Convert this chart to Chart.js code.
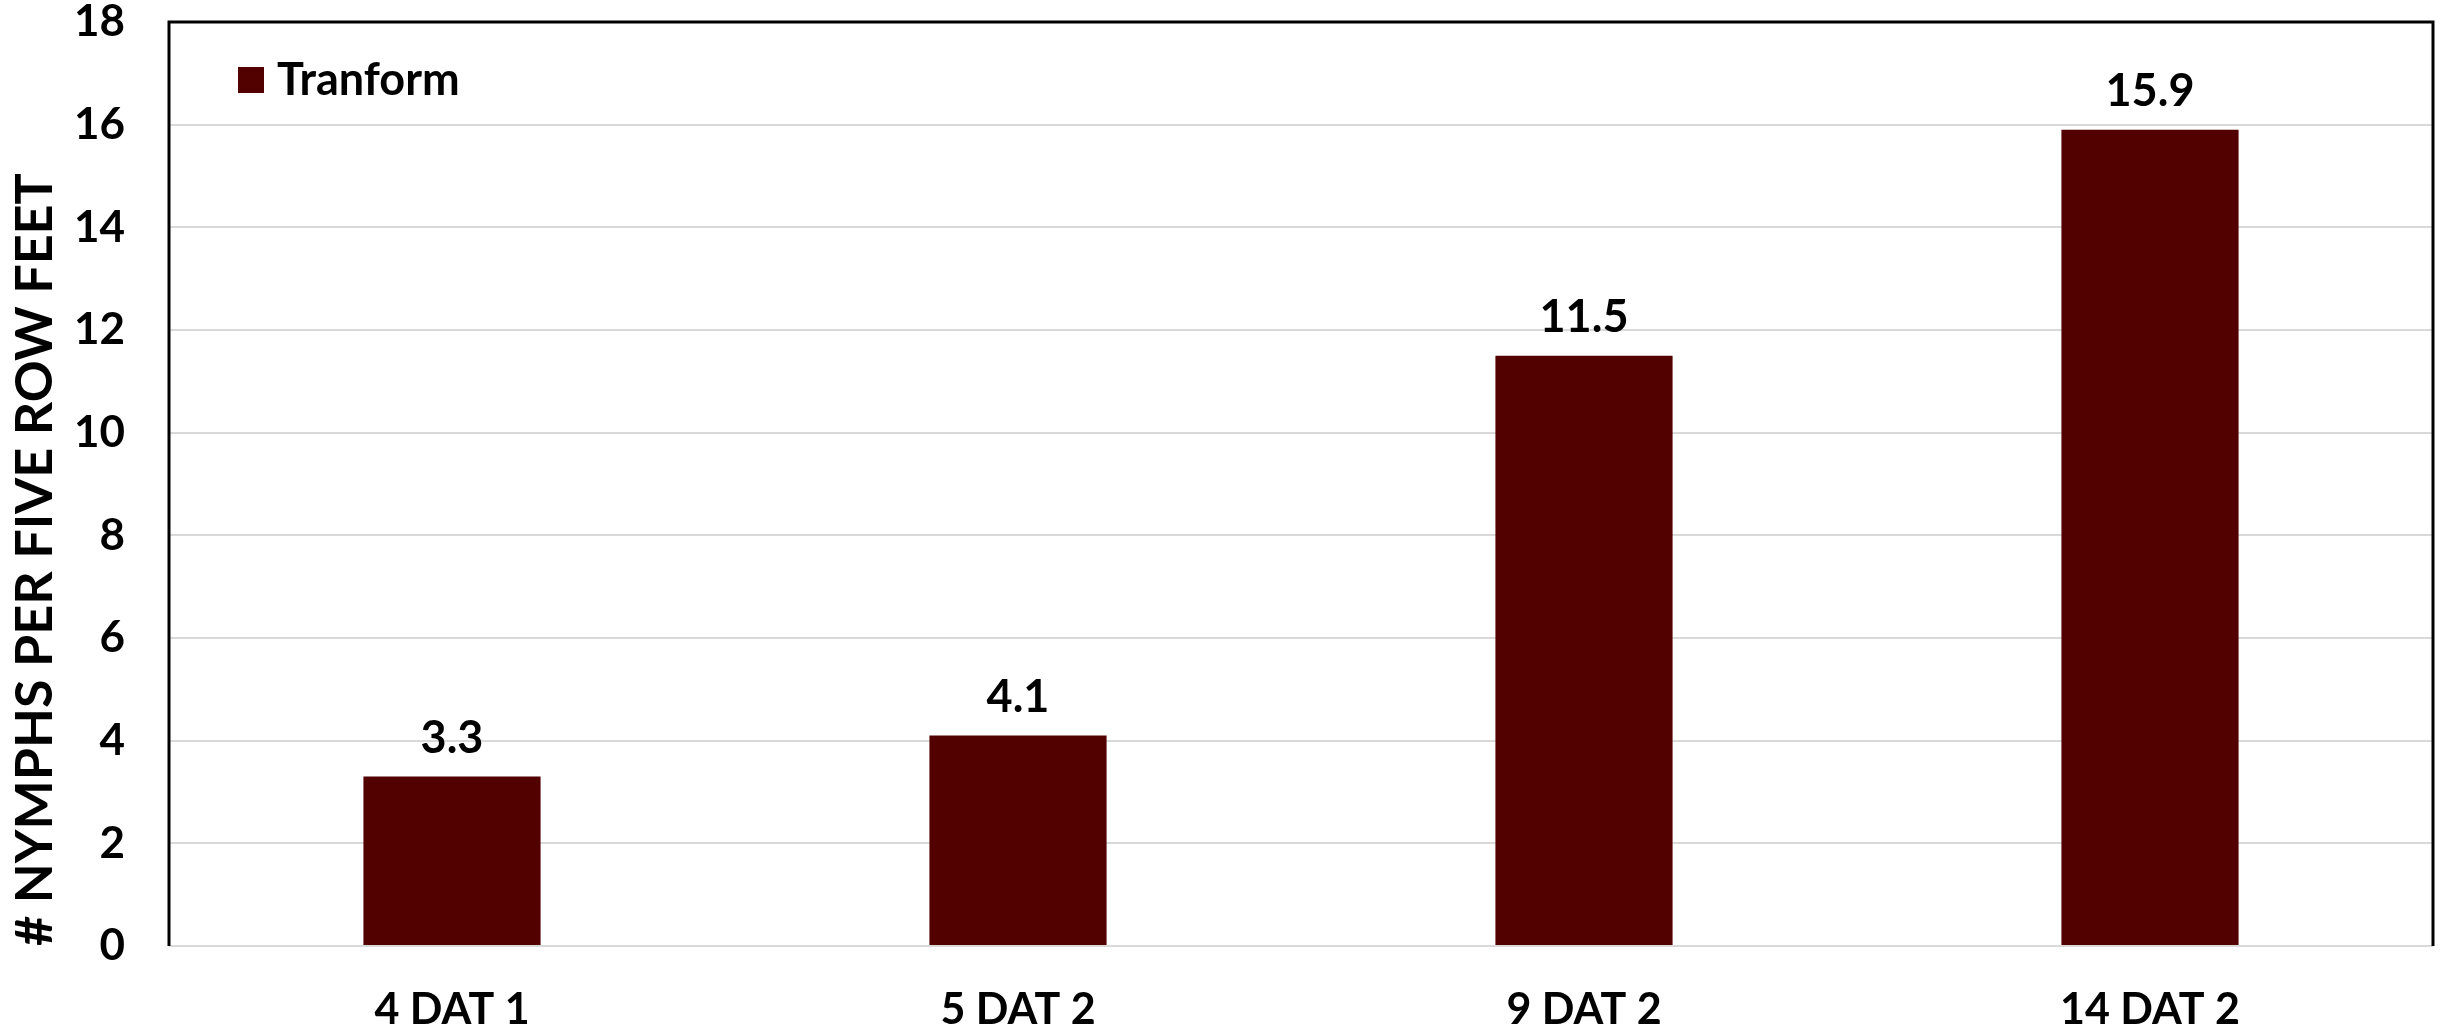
<!DOCTYPE html>
<html>
<head>
<meta charset="utf-8">
<script src="https://cdn.jsdelivr.net/npm/chart.js@4"></script>
<style>
  html, body { margin: 0; padding: 0; background: #fff; }
  #wrap { width: 2453px; height: 1029px; }
</style>
</head>
<body>
<div id="wrap"><canvas id="nymphChart" width="2453" height="1029"></canvas></div>
<script>
const categories = ['4 DAT 1', '5 DAT 2', '9 DAT 2', '14 DAT 2'];
const tranformValues = [3.3, 4.1, 11.5, 15.9];
const seriesName = 'Tranform';
const yTitle = '# NYMPHS PER FIVE ROW FEET';

const barColor = '#520000';
const fontFamily = 'Lato, "Open Sans", sans-serif';

// value labels above each bar
const barLabels = {
    id: 'barLabels',
    afterDatasetsDraw(chart) {
        const ctx = chart.ctx;
        const meta = chart.getDatasetMeta(0);
        ctx.save();
        ctx.font = 'bold 45px ' + fontFamily;
        ctx.fillStyle = '#000';
        ctx.textAlign = 'center';
        ctx.textBaseline = 'alphabetic';
        meta.data.forEach((bar, i) => {
            ctx.fillText(tranformValues[i].toFixed(1), bar.x, bar.y - 24);
        });
        ctx.restore();
    }
};

// black frame on top/left/right and legend inside the plot
const frameAndLegend = {
    id: 'frameAndLegend',
    afterDraw(chart) {
        const a = chart.chartArea;
        const ctx = chart.ctx;
        ctx.save();
        ctx.strokeStyle = '#000';
        ctx.lineWidth = 3;
        ctx.beginPath();
        ctx.moveTo(a.left, a.bottom);
        ctx.lineTo(a.left, a.top);
        ctx.lineTo(a.right, a.top);
        ctx.lineTo(a.right, a.bottom);
        ctx.stroke();

        ctx.fillStyle = barColor;
        ctx.fillRect(a.left + 69, a.top + 45, 26, 26);
        ctx.fillStyle = '#000';
        ctx.font = 'bold 45px ' + fontFamily;
        ctx.textAlign = 'left';
        ctx.textBaseline = 'middle';
        ctx.fillText(seriesName, a.left + 108, a.top + 58);
        ctx.restore();
    }
};

new Chart(document.getElementById('nymphChart'), {
    type: 'bar',
    data: {
        labels: categories,
        datasets: [{
            label: seriesName,
            data: tranformValues,
            backgroundColor: barColor,
            borderWidth: 0,
            categoryPercentage: 1,
            barPercentage: 0.313
        }]
    },
    options: {
        responsive: false,
        animation: false,
        layout: { padding: { top: 22, right: 20, left: 0, bottom: 0 } },
        plugins: {
            legend: { display: false },
            tooltip: { enabled: false }
        },
        scales: {
            x: {
                grid: { display: false, drawTicks: false },
                border: { display: false },
                ticks: {
                    color: '#000',
                    font: { family: fontFamily, size: 43, weight: 'bold' },
                    padding: 38
                },
                afterFit: axis => { axis.height = 83; }
            },
            y: {
                min: 0,
                max: 18,
                ticks: {
                    stepSize: 2,
                    color: '#000',
                    font: { family: fontFamily, size: 44, weight: 'bold' },
                    padding: 44
                },
                grid: { color: '#d9d9d9', lineWidth: 2, drawTicks: false },
                border: { display: false },
                title: {
                    display: true,
                    text: yTitle,
                    align: 'start',
                    color: '#000',
                    font: { family: fontFamily, size: 52, weight: 'bold' },
                    padding: { top: 4, bottom: 0 }
                },
                afterFit: axis => {
                    axis.width = 169;
                    axis.paddingTop = 0;
                    axis.paddingBottom = 0;
                }
            }
        }
    },
    plugins: [barLabels, frameAndLegend]
});
</script>
</body>
</html>
